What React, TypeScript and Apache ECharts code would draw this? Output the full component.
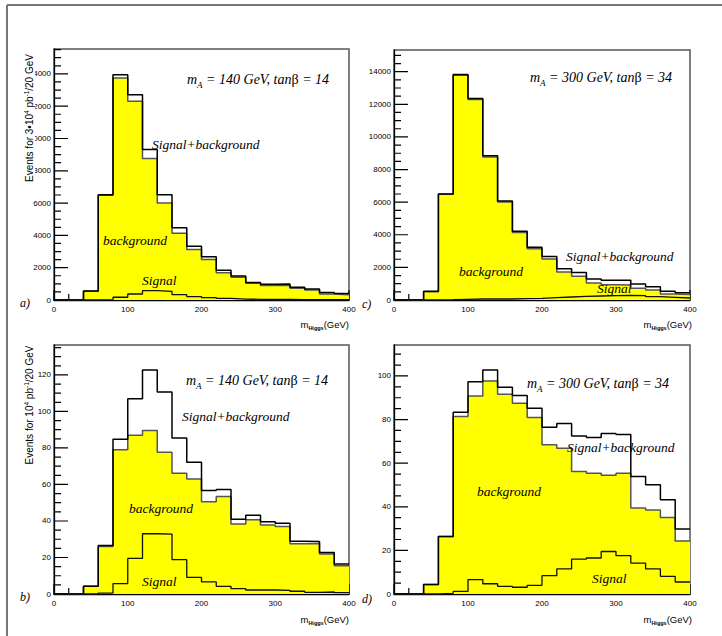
import React, { useEffect, useRef } from "react";
import * as echarts from "echarts";

// ---- data ----
const binLow = [0, 20, 40, 60, 80, 100, 120, 140, 160, 180, 200, 220, 240, 260, 280, 300, 320, 340, 360, 380];
const xEnd = 400;

// panel a) mA = 140 GeV, tanb = 14  (3*10^4 pb^-1)
const aSigBkg = [0, 0, 550, 6520, 13950, 12700, 9320, 6520, 4470, 3330, 2670, 1840, 1490, 1080, 970, 990, 790, 680, 460, 410];
const aBkg = [0, 0, 540, 6480, 13750, 12300, 8760, 6000, 4140, 3130, 2510, 1680, 1410, 1040, 890, 890, 720, 620, 370, 330];
const aSig = [0, 0, 0, 20, 170, 370, 580, 540, 330, 210, 150, 100, 60, 40, 30, 30, 20, 20, 20, 20];

// panel c) mA = 300 GeV, tanb = 34  (3*10^4 pb^-1)
const cSigBkg = [0, 0, 530, 6500, 13820, 12360, 8840, 6070, 4220, 3240, 2670, 1910, 1680, 1290, 1210, 1210, 980, 820, 530, 450];
const cBkg = [0, 0, 510, 6480, 13780, 12300, 8770, 6010, 4140, 3140, 2520, 1720, 1460, 1050, 940, 920, 720, 620, 370, 330];
const cSig = [0, 0, 10, 20, 40, 60, 62, 62, 82, 103, 144, 185, 226, 246, 267, 288, 267, 205, 164, 123];

// panel b) mA = 140 GeV, tanb = 14  (10^4 pb^-1)
const bSigBkg = [0, 0, 4.2, 26.6, 84.8, 107, 122.7, 110.7, 85.4, 72.2, 56.7, 57.3, 41, 43.2, 39.6, 38.7, 28.9, 28.8, 22.8, 16.4];
const bBkg = [0, 0, 4.2, 26, 79, 87, 89.5, 77.7, 66.2, 63, 50.5, 53.4, 38.3, 40.7, 37.8, 37, 27.5, 27.7, 21.9, 15.5];
const bSig = [0, 0, 0, 0.5, 5.7, 19.5, 33, 32.8, 18.8, 9.1, 6.6, 4.2, 2.9, 2.2, 2.2, 2, 1.5, 0.9, 1.1, 0.7];

// panel d) mA = 300 GeV, tanb = 34  (10^4 pb^-1)
const dSigBkg = [0, 0, 4.3, 26.4, 83.4, 97.4, 102.7, 94.8, 91, 85.2, 76.5, 78.2, 72.5, 71.8, 73.6, 73.1, 53.9, 50.1, 43.2, 29.8];
const dBkg = [0, 0, 4.3, 26.4, 81.4, 90.8, 97.7, 91.6, 87.5, 81, 68.4, 66.9, 56.2, 55.4, 54.5, 55.4, 39.4, 38.5, 35.1, 24.3];
const dSig = [0, 0, 0, 0.3, 1.2, 6.6, 4.7, 3.5, 3.1, 4, 8.4, 11.5, 16, 16.5, 19.5, 17.6, 14.2, 11.5, 8.1, 5.5];

// tick steps (major label step, minor tick step)
const xStep = [100, 20];
const yStepTop = [2000, 500];
const yStepB = [20, 5];
const yStepD = [20, 5];

// ---- layout ----
const panels = [
  { left: 54, top: 49, width: 295, height: 251, yMax: 15540, steps: yStepTop, sb: aSigBkg, b: aBkg, s: aSig },
  { left: 394, top: 50, width: 296, height: 250, yMax: 15330, steps: yStepTop, sb: cSigBkg, b: cBkg, s: cSig },
  { left: 54, top: 345, width: 295, height: 249, yMax: 136.4, steps: yStepB, sb: bSigBkg, b: bBkg, s: bSig },
  { left: 394, top: 345, width: 296, height: 249, yMax: 114.2, steps: yStepD, sb: dSigBkg, b: dBkg, s: dSig },
];

const SERIF = '"Liberation Serif", "Times New Roman", serif';
const SANS = '"Liberation Sans", Arial, sans-serif';

function histData(vals: number[]) {
  const d = binLow.map((x, i) => [x, vals[i]]);
  d.push([xEnd, vals[vals.length - 1]]);
  return d;
}

// tick values with a flag for major ticks
function tickValues(max: number, major: number, minor: number) {
  const out: { v: number; major: boolean }[] = [];
  const n = Math.floor(max / minor + 1e-9);
  for (let k = 0; k <= n; k++) {
    const v = Math.round(k * minor * 1000) / 1000;
    out.push({ v, major: Math.abs(v / major - Math.round(v / major)) < 1e-6 });
  }
  return out;
}

// tick segments as broken line data (length given in pixels, turned into axis units)
function yTickSegments(p: any) {
  const pxToX = xEnd / p.width;
  const d: any[] = [];
  tickValues(p.yMax, p.steps[0], p.steps[1]).forEach((t) => {
    const len = (t.major ? 14 : 7) * pxToX;
    d.push([0, t.v], [len, t.v], null);
  });
  return d;
}
function xTickSegments(p: any) {
  const pxToY = p.yMax / p.height;
  const d: any[] = [];
  tickValues(xEnd, xStep[0], xStep[1]).forEach((t) => {
    const len = (t.major ? 10 : 6) * pxToY;
    d.push([t.v, 0], [t.v, len], null);
  });
  return d;
}

const annRich = {
  t: { fontSize: 14, fontStyle: "italic", fontFamily: SERIF, fill: "#000", lineHeight: 20, verticalAlign: "middle" },
  s: { fontSize: 9, fontStyle: "italic", fontFamily: SERIF, fill: "#000", verticalAlign: "bottom" },
  g: { fontSize: 14, fontFamily: SERIF, fill: "#000", lineHeight: 20, verticalAlign: "middle" },
};

function massText(x: number, y: number, mass: number, tanb: number) {
  return {
    type: "text",
    z: 100,
    style: {
      x,
      y,
      text: `{t|m}{s|A}{t| = ${mass} GeV, tan}{g|β}{t| = ${tanb}}`,
      rich: annRich,
      verticalAlign: "middle",
      align: "left",
    },
  };
}

function plainText(x: number, y: number, text: string) {
  return {
    type: "text",
    z: 100,
    style: { x, y, text, font: `italic 13.5px ${SERIF}`, fill: "#000", verticalAlign: "middle", align: "left" },
  };
}

function letter(x: number, y: number, text: string) {
  return {
    type: "text",
    z: 100,
    style: { x, y, text, font: `italic 12px ${SERIF}`, fill: "#000", verticalAlign: "middle", align: "left" },
  };
}

const xRich = {
  m: { fontSize: 9.5, fontFamily: SANS, fill: "#000", lineHeight: 14, verticalAlign: "middle" },
  h: { fontSize: 5.5, fontFamily: SANS, fontWeight: "bold", fill: "#000", verticalAlign: "bottom" },
};

function xTitle(xRight: number, y: number) {
  return {
    type: "text",
    z: 100,
    style: { x: xRight, y, text: "{m|m}{h|Higgs}{m|(GeV)}", rich: xRich, align: "right", verticalAlign: "middle" },
  };
}

const yRich = {
  n: { fontSize: 10, fontFamily: SANS, fill: "#000", lineHeight: 12, verticalAlign: "middle" },
  u: { fontSize: 6.5, fontFamily: SANS, fill: "#000", verticalAlign: "top" },
};

function yTitle(x: number, y: number, text: string) {
  return {
    type: "text",
    z: 100,
    x,
    y,
    rotation: Math.PI / 2,
    style: {
      x: 0,
      y: 0,
      text,
      rich: yRich,
      align: "center",
      verticalAlign: "middle",
      backgroundColor: "#fff",
      padding: [0, 1, 0, 1],
    },
  };
}

export default function App() {
  const ref = useRef<HTMLDivElement>(null);

  useEffect(() => {
    if (!ref.current) return;
    const chart = echarts.init(ref.current, undefined, { renderer: "svg" });

    const grid: any[] = [];
    const xAxis: any[] = [];
    const yAxis: any[] = [];
    const series: any[] = [];

    panels.forEach((p, i) => {
      grid.push({
        left: p.left,
        top: p.top,
        width: p.width,
        height: p.height,
        show: true,
        borderColor: "#555",
        borderWidth: 1.5,
        backgroundColor: "rgba(255,255,255,0)",
      });
      xAxis.push({
        type: "value",
        gridIndex: i,
        min: 0,
        max: xEnd,
        interval: xStep[0],
        axisLine: { show: true, onZero: false, lineStyle: { color: "#000", width: 1.3 } },
        axisTick: { show: false },
        splitLine: { show: false },
        axisLabel: {
          color: "#000",
          fontSize: 8,
          fontFamily: SANS,
          margin: 5,
          formatter: (v: number) => String(v),
        },
      });
      yAxis.push({
        type: "value",
        gridIndex: i,
        min: 0,
        max: p.yMax,
        interval: p.steps[0],
        position: "left",
        axisLine: { show: true, onZero: false, lineStyle: { color: "#000", width: 1.3 } },
        axisTick: { show: false },
        splitLine: { show: false },
        axisLabel: {
          showMaxLabel: false,
          color: "#000",
          fontSize: 8,
          fontFamily: SANS,
          margin: 3,
          formatter: (v: number) => String(v),
        },
      });

      // bottom-axis ticks (under the histogram fill)
      series.push({
        type: "line",
        xAxisIndex: i,
        yAxisIndex: i,
        symbol: "none",
        silent: true,
        connectNulls: false,
        data: xTickSegments(p),
        lineStyle: { color: "#000", width: 1.2 },
        z: 1,
      });
      series.push({
        type: "line",
        xAxisIndex: i,
        yAxisIndex: i,
        step: "end",
        symbol: "none",
        data: histData(p.b),
        lineStyle: { color: "#555", width: 1.5 },
        areaStyle: { color: "#ffff00", opacity: 1 },
        z: 2,
      });
      series.push({
        type: "line",
        xAxisIndex: i,
        yAxisIndex: i,
        step: "end",
        symbol: "none",
        data: histData(p.sb),
        lineStyle: { color: "#000", width: 1.5 },
        z: 3,
      });
      series.push({
        type: "line",
        xAxisIndex: i,
        yAxisIndex: i,
        step: "end",
        symbol: "none",
        data: histData(p.s),
        lineStyle: { color: "#111", width: 1.3 },
        z: 4,
      });
      // left-axis ticks
      series.push({
        type: "line",
        xAxisIndex: i,
        yAxisIndex: i,
        symbol: "none",
        silent: true,
        connectNulls: false,
        data: yTickSegments(p),
        lineStyle: { color: "#000", width: 1.2 },
        z: 5,
      });
    });

    const graphic: any[] = [
      { type: "line", z: 100, shape: { x1: 7, y1: 5, x2: 722, y2: 5 }, style: { stroke: "#777", lineWidth: 2 } },
      { type: "line", z: 100, shape: { x1: 7, y1: 5, x2: 7, y2: 636 }, style: { stroke: "#777", lineWidth: 2 } },
      // panel a
      massText(187, 79, 140, 14),
      plainText(152, 144, "Signal+background"),
      plainText(103, 240, "background"),
      plainText(142, 280, "Signal"),
      // panel c
      massText(530, 77, 300, 34),
      plainText(566, 256, "Signal+background"),
      plainText(459, 271, "background"),
      plainText(597, 288, "Signal"),
      // panel b
      massText(186, 380, 140, 14),
      plainText(182, 416, "Signal+background"),
      plainText(129, 508, "background"),
      plainText(142, 581, "Signal"),
      // panel d
      massText(527, 383, 300, 34),
      plainText(567, 447, "Signal+background"),
      plainText(477, 491, "background"),
      plainText(592, 578, "Signal"),
      // letters
      letter(20, 303, "a)"),
      letter(20, 597, "b)"),
      letter(362, 304, "c)"),
      letter(362, 599, "d)"),
      // x titles
      xTitle(349, 324),
      xTitle(692, 324),
      xTitle(349, 619),
      xTitle(692, 619),
      // y titles
      yTitle(29, 118, "{n|Events for 3•10}{u|4}{n| pb}{u|-1}{n|/20 GeV}"),
      yTitle(29, 405, "{n|Events for 10}{u|4}{n| pb}{u|-1}{n|/20 GeV}"),
    ];

    chart.setOption({
      animation: false,
      backgroundColor: "#fff",
      grid,
      xAxis,
      yAxis,
      series,
      graphic: { elements: graphic },
    });

    return () => chart.dispose();
  }, []);

  return <div ref={ref} style={{ position: "fixed", left: 0, top: 0, width: 722, height: 636 }} />;
}
